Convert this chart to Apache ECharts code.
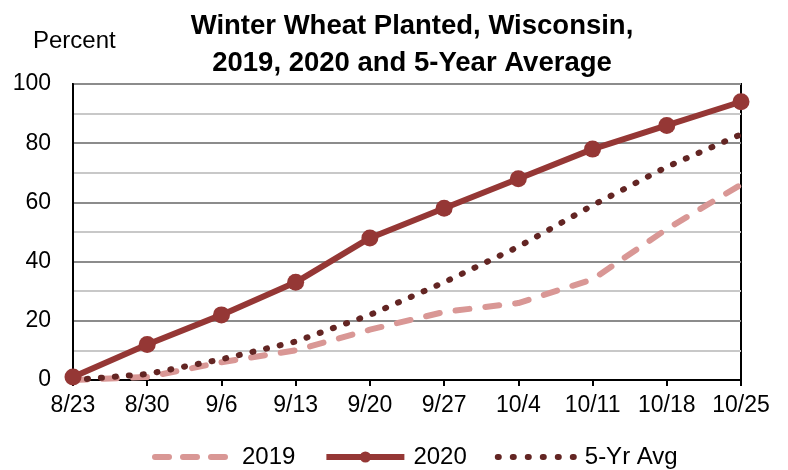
<!DOCTYPE html>
<html>
<head>
<meta charset="utf-8">
<script src="https://cdn.jsdelivr.net/npm/echarts@6/dist/echarts.min.js"></script>
<style>
html,body{margin:0;padding:0;background:#fff;}
#c{width:788px;height:470px;}
</style>
</head>
<body>
<div id="c"></div>
<script>
const categories = ['8/23','8/30','9/6','9/13','9/20','9/27','10/4','10/11','10/18','10/25'];
const y2019 = [0, 1, 6, 10, 17, 23, 26, 34, 51, 66];
const y2020 = [1, 12, 22, 33, 48, 58, 68, 78, 86, 94];
const yAvg = [0, 2, 7, 13, 22, 33, 45, 59, 72, 83];
const yTicks = [0, 20, 40, 60, 80, 100];

const FONT = '"Liberation Sans", Arial, sans-serif';
const C2019 = '#D99795', C2020 = '#953735', CAVG = '#632523';
const chart = echarts.init(document.getElementById('c'), null, {renderer: 'canvas'});
chart.setOption({
  animation: false,
  backgroundColor: '#fff',
  title: [{
    text: 'Winter Wheat Planted, Wisconsin,\n2019, 2020 and 5-Year Average',
    left: 407, top: 3, textAlign: 'center',
    textStyle: {fontFamily: FONT, fontSize: 27.5, fontWeight: 'bold', color: '#000', lineHeight: 37}
  }, {
    text: 'Percent',
    left: 28, top: 24,
    textStyle: {fontFamily: FONT, fontSize: 24, fontWeight: 'normal', color: '#000'}
  }],
  grid: {left: 73, right: 47, top: 84, bottom: 90, show: true, borderColor: '#000', borderWidth: 2},
  legend: {
    top: 445, left: 152, padding: 0,
    itemWidth: 78, itemHeight: 14, itemGap: 28,
    textStyle: {fontFamily: FONT, fontSize: 24, color: '#000', padding: [0, 0, 0, 4]},
    data: [
      {name: '2019', itemStyle: {opacity: 0},
        lineStyle: {color: C2019, width: 6, type: [14, 14], cap: 'round'}},
      {name: '2020',
        lineStyle: {color: C2020, width: 6}},
      {name: '5-Yr Avg', itemStyle: {opacity: 0},
        lineStyle: {color: CAVG, width: 6, type: [1, 14], cap: 'round'}}
    ]
  },
  xAxis: {
    type: 'category', data: categories, boundaryGap: false,
    axisLine: {lineStyle: {color: '#000', width: 2}},
    axisTick: {show: true, length: 6, interval: 0, lineStyle: {color: '#000', width: 2}},
    axisLabel: {fontFamily: FONT, fontSize: 23, color: '#000', margin: 14, interval: 0},
    splitLine: {show: false}
  },
  yAxis: {
    type: 'value', min: yTicks[0], max: yTicks[yTicks.length - 1], interval: 20,
    axisLine: {show: true, lineStyle: {color: '#000', width: 2}},
    axisTick: {show: false},
    axisLabel: {fontFamily: FONT, fontSize: 23, color: '#000', margin: 22},
    splitLine: {show: true, lineStyle: {color: '#8c8c8c', width: 2}},
    minorTick: {show: false, splitNumber: 2},
    minorSplitLine: {show: true, lineStyle: {color: '#c8c8c8', width: 2}}
  },
  series: [{
    name: '2019', type: 'line', data: y2019, symbol: 'none', z: 3,
    itemStyle: {color: C2019},
    lineStyle: {color: C2019, width: 6, type: [14, 16], cap: 'round'}
  }, {
    name: '5-Yr Avg', type: 'line', data: yAvg, symbol: 'none', z: 4,
    itemStyle: {color: CAVG},
    lineStyle: {color: CAVG, width: 6, type: [1, 13], cap: 'round'}
  }, {
    name: '2020', type: 'line', data: y2020, symbol: 'circle', symbolSize: 17, z: 5,
    itemStyle: {color: C2020},
    lineStyle: {color: C2020, width: 6}
  }]
});
</script>
</body>
</html>
